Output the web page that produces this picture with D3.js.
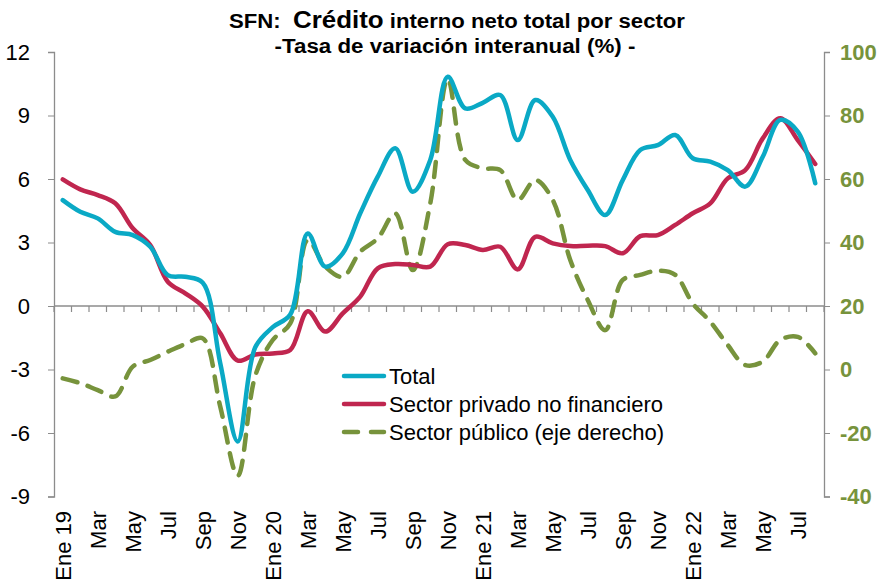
<!DOCTYPE html>
<html>
  <script src="https://cdn.jsdelivr.net/npm/d3@7"></script>
  <style>
    body{ margin: 0; background: #fff; }
    svg text{ font-family: "Liberation Sans", Arial, sans-serif; }
    .title{ font-weight: bold; }
  </style>
  <body>
    <script>

// meses Ene 19 .. Ago 22
var meses = ['Ene 19','Feb','Mar','Abr','May','Jun','Jul','Ago','Sep','Oct','Nov','Dic',
  'Ene 20','Feb','Mar','Abr','May','Jun','Jul','Ago','Sep','Oct','Nov','Dic',
  'Ene 21','Feb','Mar','Abr','May','Jun','Jul','Ago','Sep','Oct','Nov','Dic',
  'Ene 22','Feb','Mar','Abr','May','Jun','Jul','Ago']

var total = [5.0, 4.45, 4.14, 3.5, 3.35, 2.8, 1.46, 1.38, 1.1, -2.7, -6.4, -1.95,
  -1.0, -0.4, 3.43, 1.86, 2.49, 4.38, 6.11, 7.45, 5.4, 6.9, 10.83, 9.34,
  9.6, 9.97, 7.84, 9.73, 8.94, 6.9, 5.48, 4.3, 5.95, 7.37, 7.6, 8.08,
  6.98, 6.82, 6.42, 5.64, 7.05, 8.79, 8.24, 5.8]

var privado = [5.98, 5.51, 5.24, 4.85, 3.67, 2.88, 1.15, 0.6, -0.03, -1.29, -2.58, -2.29,
  -2.24, -2.08, -0.25, -1.21, -0.35, 0.44, 1.78, 1.98, 1.94, 1.86, 2.92, 2.88,
  2.65, 2.8, 1.73, 3.27, 2.96, 2.83, 2.85, 2.83, 2.49, 3.3, 3.35, 3.83,
  4.38, 4.85, 6.03, 6.42, 7.92, 8.87, 7.84, 6.71]

var publico = [-2.8, -4.3, -6.5, -8.5, 0.9, 3, 5.6, 8, 9.8, -11.7, -33.5, -2,
  9.3, 14.5, 40.8, 32.4, 29.2, 37.1, 41.3, 49.2, 31.3, 52.3, 91.5, 66,
  63.4, 62.8, 53.4, 59.7, 53.4, 34.5, 21.9, 12.4, 28.2, 29.8, 31.1, 29.8,
  20.8, 15.1, 7.7, 1.4, 2.5, 9.3, 10.3, 5.1]

var ticksIzq = [-9, -6, -3, 0, 3, 6, 9, 12]
var ticksDer = [-40, -20, 0, 20, 40, 60, 80, 100]

var W = 883, H = 581
var mIzq = 54, mDer = 824, mSup = 52, mInf = 496.5
var fs = 22

var svg = d3.select('body').append('svg').attr('width', W).attr('height', H)

var x = d3.scaleBand().domain(d3.range(meses.length)).range([mIzq, mDer])
var yL = d3.scaleLinear().domain([-9, 12]).range([mInf, mSup])
var yR = d3.scaleLinear().domain([-40, 100]).range([mInf, mSup])
var cx = function(i){ return x(i) + x.bandwidth() / 2 }
var fmt = function(d){ return String(d) }

var gris = '#8c8c8c', verde = '#77933c', azul = '#0aa9c5', rojo = '#c0264f'

// titulo
var t1 = svg.append('text').attr('class', 'title')
  .attr('transform', 'translate(457,28) scale(1.08,1)')
  .attr('text-anchor', 'middle').attr('font-size', 20.5)
t1.append('tspan').text('SFN:\u00a0\u00a0')
t1.append('tspan').attr('font-size', 24).text('Crédito')
t1.append('tspan').text(' interno neto total por sector')
svg.append('text').attr('class', 'title')
  .attr('transform', 'translate(455,53) scale(1.09,1)')
  .attr('text-anchor', 'middle').attr('font-size', 20.5)
  .text('-Tasa de variación interanual (%)\u00a0-')

// eje izquierdo
var axL = svg.append('g').attr('transform', 'translate(' + mIzq + ',0)')
  .call(d3.axisLeft(yL).tickValues(ticksIzq).tickFormat(fmt).tickSize(6).tickPadding(18))
axL.select('.domain').attr('stroke', gris).attr('stroke-width', 1.3)
axL.selectAll('line').attr('stroke', gris)
axL.selectAll('text').attr('font-size', fs).attr('fill', '#000')
  .attr('font-family', '"Liberation Sans", Arial, sans-serif')

// eje derecho
var axR = svg.append('g').attr('transform', 'translate(' + mDer + ',0)')
  .call(d3.axisRight(yR).tickValues(ticksDer).tickFormat(fmt).tickSize(6).tickPadding(10))
axR.select('.domain').attr('stroke', gris).attr('stroke-width', 1.3)
axR.selectAll('line').attr('stroke', gris)
axR.selectAll('text').attr('font-size', fs).attr('font-weight', 'bold').attr('fill', verde)
  .attr('font-family', '"Liberation Sans", Arial, sans-serif')

// linea cero con marcas de categoria
var y0 = yL(0)
svg.append('line').attr('x1', mIzq).attr('x2', mDer).attr('y1', y0).attr('y2', y0)
  .attr('stroke', gris).attr('stroke-width', 1.3)
svg.selectAll('.tk').data(d3.range(meses.length + 1)).enter().append('line')
  .attr('x1', function(i){ return mIzq + i * x.step() }).attr('x2', function(i){ return mIzq + i * x.step() })
  .attr('y1', y0).attr('y2', y0 + 6).attr('stroke', gris).attr('stroke-width', 1.2)

// etiquetas de meses (una de cada dos)
svg.selectAll('.mes').data(d3.range(0, meses.length, 2)).enter().append('text')
  .attr('transform', function(i){ return 'translate(' + (cx(i) + 8.5) + ',511) rotate(-90)' })
  .attr('text-anchor', 'end').attr('font-size', fs).attr('fill', '#000')
  .text(function(i){ return meses[i] })

// series
var curva = d3.curveCatmullRom.alpha(0.5)
var lineaL = d3.line().x(function(d, i){ return cx(i) }).y(function(d){ return yL(d) }).curve(curva)
var lineaR = d3.line().x(function(d, i){ return cx(i) }).y(function(d){ return yR(d) }).curve(curva)

svg.append('path').attr('d', lineaR(publico)).attr('fill', 'none').attr('stroke', verde)
  .attr('stroke-width', 4.5).attr('stroke-dasharray', '15,11').attr('stroke-linecap', 'round')
svg.append('path').attr('d', lineaL(privado)).attr('fill', 'none').attr('stroke', rojo)
  .attr('stroke-width', 4.5).attr('stroke-linecap', 'round')
svg.append('path').attr('d', lineaL(total)).attr('fill', 'none').attr('stroke', azul)
  .attr('stroke-width', 4.5).attr('stroke-linecap', 'round')

// leyenda
var leyenda = [
  {nombre: 'Total', color: azul, dash: null},
  {nombre: 'Sector privado no financiero', color: rojo, dash: null},
  {nombre: 'Sector público (eje derecho)', color: verde, dash: '14,13'}
]
var lg = svg.selectAll('.lg').data(leyenda).enter().append('g')
  .attr('transform', function(d, i){ return 'translate(344,' + (376 + i * 28) + ')' })
lg.append('line').attr('x1', 0).attr('x2', 40).attr('y1', 0).attr('y2', 0)
  .attr('stroke', function(d){ return d.color }).attr('stroke-width', 4.5)
  .attr('stroke-linecap', 'round').attr('stroke-dasharray', function(d){ return d.dash })
lg.append('text').attr('x', 45).attr('y', 8).attr('font-size', fs).attr('fill', '#000')
  .text(function(d){ return d.nombre })

    </script>
  </body>
</html>
